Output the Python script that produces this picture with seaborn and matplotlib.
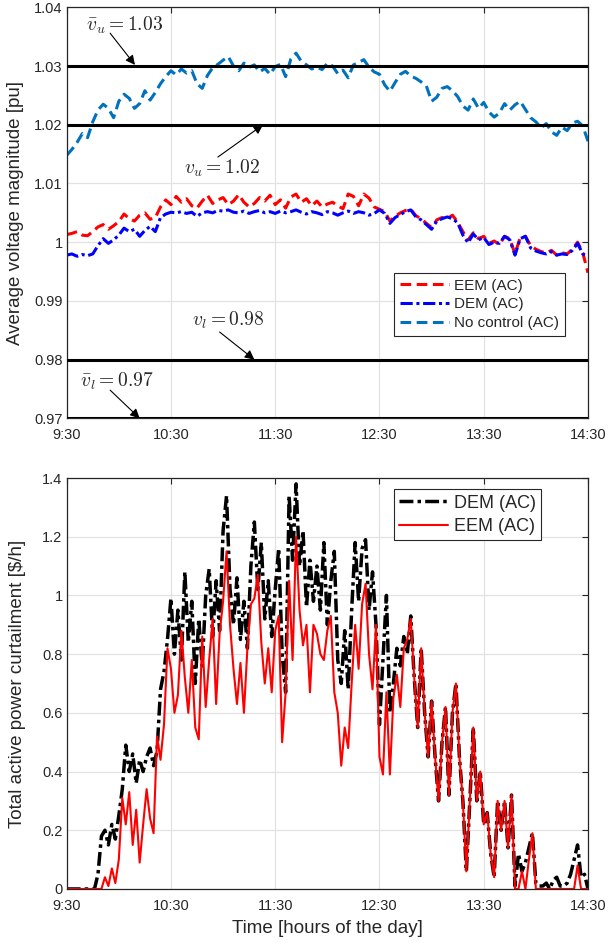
import matplotlib
matplotlib.use('Agg')
import matplotlib.pyplot as plt
import seaborn as sns
import numpy as np

# ---- data: top panel (3-min samples, minutes after 9:30) ----
t_volt = np.arange(0, 301, 3)

no_control = [1.0148, 1.0158, 1.0170, 1.0185, 1.0178, 1.0205, 1.0225, 1.0235, 1.0228, 1.0212,
              1.0240, 1.0252, 1.0245, 1.0228, 1.0236, 1.0258, 1.0242, 1.0255, 1.0270, 1.0282,
              1.0292, 1.0285, 1.0295, 1.0288, 1.0292, 1.0270, 1.0262, 1.0284, 1.0297, 1.0303,
              1.0310, 1.0316, 1.0300, 1.0292, 1.0305, 1.0298, 1.0302, 1.0290, 1.0296, 1.0286,
              1.0299, 1.0303, 1.0282, 1.0312, 1.0322, 1.0308, 1.0302, 1.0295, 1.0298, 1.0294,
              1.0305, 1.0300, 1.0287, 1.0293, 1.0280, 1.0302, 1.0306, 1.0311, 1.0298, 1.0290,
              1.0286, 1.0268, 1.0257, 1.0272, 1.0286, 1.0291, 1.0283, 1.0279, 1.0273, 1.0266,
              1.0240, 1.0247, 1.0262, 1.0265, 1.0258, 1.0248, 1.0232, 1.0225, 1.0244, 1.0228,
              1.0238, 1.0222, 1.0213, 1.0220, 1.0236, 1.0225, 1.0234, 1.0240, 1.0226, 1.0212,
              1.0205, 1.0195, 1.0202, 1.0188, 1.0182, 1.0196, 1.0190, 1.0203, 1.0206, 1.0198,
              1.0172]

eem_volt = [1.0013, 1.0015, 1.0018, 1.0012, 1.0011, 1.0018, 1.0026, 1.0030, 1.0022, 1.0028,
            1.0035, 1.0048, 1.0040, 1.0036, 1.0046, 1.0050, 1.0039, 1.0042, 1.0060, 1.0072,
            1.0064, 1.0078, 1.0068, 1.0074, 1.0062, 1.0058, 1.0070, 1.0080, 1.0066, 1.0072,
            1.0076, 1.0064, 1.0070, 1.0081, 1.0068, 1.0060, 1.0066, 1.0076, 1.0070, 1.0080,
            1.0064, 1.0072, 1.0058, 1.0077, 1.0082, 1.0068, 1.0074, 1.0062, 1.0070, 1.0060,
            1.0065, 1.0068, 1.0062, 1.0057, 1.0082, 1.0078, 1.0062, 1.0082, 1.0075, 1.0060,
            1.0056, 1.0052, 1.0036, 1.0044, 1.0050, 1.0054, 1.0056, 1.0045, 1.0040, 1.0032,
            1.0025, 1.0038, 1.0042, 1.0040, 1.0046, 1.0034, 1.0018, 1.0004, 1.0016, 1.0006,
            1.0010, 0.9998, 1.0002, 0.9996, 1.0010, 1.0006, 0.9980, 1.0008, 1.0010, 0.9994,
            0.9988, 0.9984, 0.9982, 0.9986, 0.9978, 0.9982, 0.9980, 0.9988, 1.0000, 0.9982,
            0.9948]

dem_volt = [0.9978, 0.9980, 0.9976, 0.9979, 0.9977, 0.9980, 0.9994, 1.0006, 0.9998, 1.0004,
            1.0012, 1.0024, 1.0018, 1.0022, 1.0010, 1.0020, 1.0027, 1.0018, 1.0042, 1.0048,
            1.0051, 1.0050, 1.0052, 1.0049, 1.0051, 1.0044, 1.0050, 1.0052, 1.0050, 1.0054,
            1.0053, 1.0055, 1.0051, 1.0050, 1.0053, 1.0049, 1.0052, 1.0054, 1.0050, 1.0052,
            1.0049, 1.0053, 1.0050, 1.0052, 1.0055, 1.0051, 1.0048, 1.0052, 1.0050, 1.0047,
            1.0052, 1.0050, 1.0046, 1.0050, 1.0053, 1.0049, 1.0052, 1.0050, 1.0046, 1.0049,
            1.0055, 1.0049, 1.0032, 1.0042, 1.0047, 1.0052, 1.0055, 1.0043, 1.0038, 1.0030,
            1.0022, 1.0036, 1.0040, 1.0043, 1.0040, 1.0033, 1.0012, 0.9999, 1.0014, 1.0004,
            1.0008, 0.9996, 1.0000, 0.9998, 1.0010, 1.0004, 0.9978, 1.0006, 1.0010, 0.9990,
            0.9985, 0.9982, 0.9980, 0.9984, 0.9978, 0.9980, 0.9979, 0.9986, 0.9998, 0.9980,
            0.9975]

limits = [1.03, 1.02, 0.98, 0.97]

# ---- data: bottom panel (2-min samples) ----
t_curt = np.arange(0, 301, 2)

dem_curt = [0, 0, 0, 0, 0, 0, 0, 0, 0, 0.05,
            0.18, 0.20, 0.15, 0.22, 0.17, 0.25, 0.34, 0.49, 0.40, 0.46,
            0.36, 0.44, 0.40, 0.45, 0.48, 0.42, 0.47, 0.68, 0.74, 0.85,
            0.99, 0.80, 0.95, 0.78, 1.08, 0.84, 0.98, 0.70, 0.92, 0.76,
            1.00, 1.09, 0.86, 1.05, 0.88, 1.22, 1.34, 1.02, 0.90, 1.06,
            0.85, 0.98, 0.82, 1.10, 1.25, 1.02, 1.18, 0.92, 1.05, 0.86,
            1.02, 1.16, 0.80, 0.67, 1.34, 1.12, 1.38, 1.10, 1.22, 0.96,
            1.12, 0.98, 1.10, 0.95, 1.18, 0.90, 1.05, 1.15, 0.78, 0.70,
            0.88, 0.68, 0.95, 1.18, 0.98, 1.16, 1.19, 0.95, 1.08, 0.90,
            0.56, 0.78, 1.00, 0.60, 0.70, 0.82, 0.76, 0.86, 0.80, 0.93,
            0.72, 0.55, 0.82, 0.60, 0.45, 0.64, 0.45, 0.30, 0.50, 0.62,
            0.32, 0.60, 0.70, 0.45, 0.30, 0.06, 0.30, 0.55, 0.30, 0.40,
            0.22, 0.26, 0.12, 0.04, 0.30, 0.20, 0.30, 0.14, 0.32, 0.01,
            0.12, 0.06, 0.09, 0.14, 0.19, 0.02, 0.01, 0.01, 0.02, 0.00,
            0.03, 0.04, 0.01, 0.01, 0.02, 0.05, 0.10, 0.15, 0.04, 0.05,
            0.00]

eem_curt = [0, 0, 0, 0, 0, 0, 0, 0, 0, 0,
            0.00, 0.04, 0.01, 0.07, 0.02, 0.10, 0.31, 0.22, 0.33, 0.15,
            0.27, 0.09, 0.22, 0.34, 0.24, 0.19, 0.52, 0.44, 0.56, 0.82,
            0.75, 0.60, 0.66, 0.88, 0.72, 0.60, 0.78, 0.55, 0.51, 0.86,
            0.62, 0.78, 0.92, 0.63, 0.87, 0.98, 1.15, 0.90, 0.75, 0.63,
            0.77, 0.60, 0.82, 0.97, 0.99, 1.07, 0.84, 0.70, 0.82, 0.67,
            0.88, 0.93, 0.50, 0.67, 1.05, 0.78, 1.20, 0.95, 0.83, 0.90,
            0.67, 0.90, 0.87, 0.80, 0.78, 0.88, 0.93, 0.67, 0.60, 0.42,
            0.55, 0.48, 0.70, 0.90, 0.75, 0.97, 1.04, 0.80, 0.68, 0.90,
            0.45, 0.39, 0.67, 0.39, 0.65, 0.73, 0.62, 0.82, 0.85, 0.92,
            0.72, 0.55, 0.82, 0.60, 0.45, 0.64, 0.45, 0.30, 0.50, 0.62,
            0.32, 0.60, 0.70, 0.45, 0.30, 0.06, 0.30, 0.55, 0.30, 0.40,
            0.22, 0.26, 0.12, 0.04, 0.30, 0.20, 0.30, 0.14, 0.32, 0.00,
            0.00, 0.06, 0.00, 0.10, 0.19, 0.00, 0.00, 0.00, 0.00, 0.00,
            0, 0, 0, 0, 0, 0, 0, 0.08, 0, 0,
            0]

tick_pos = [0, 60, 120, 180, 240, 300]
tick_labels = ['9:30', '10:30', '11:30', '12:30', '13:30', '14:30']

# ---- style ----
sns.set_theme(style='whitegrid', rc={
    'axes.edgecolor': '#262626', 'axes.linewidth': 0.9,
    'grid.color': '#e2e2e2', 'grid.linewidth': 0.9,
    'xtick.color': '#262626', 'ytick.color': '#262626',
    'text.color': '#262626', 'axes.labelcolor': '#262626',
})
plt.rcParams['font.family'] = ['Liberation Sans', 'DejaVu Sans']
plt.rcParams['mathtext.fontset'] = 'cm'

fig = plt.figure(figsize=(6.09, 9.43), dpi=100)
ax1 = fig.add_axes([0.1095, 0.5564, 0.856, 0.4358])
ax2 = fig.add_axes([0.1095, 0.0573, 0.856, 0.4358])


def style_axis(ax):
    ax.set_xlim(0, 300)
    ax.set_xticks(tick_pos)
    ax.set_xticklabels(tick_labels)
    ax.tick_params(direction='in', length=4, width=0.8, top=True, right=True,
                   labelsize=10.5, colors='#262626')
    ax.tick_params(axis='x', pad=7)
    ax.tick_params(axis='y', pad=3)
    for s in ax.spines.values():
        s.set_visible(True)
        s.set_color('#262626')


dashdot = (0, (4, 1.2, 1, 1.2))

# ---- top: voltage ----
sns.lineplot(x=t_volt, y=eem_volt, ax=ax1, color='#ff0000', lw=2.2,
             linestyle=(0, (3.5, 1.8)), label='EEM (AC)')
sns.lineplot(x=t_volt, y=dem_volt, ax=ax1, color='#0000ff', lw=2.2,
             linestyle=dashdot, label='DEM (AC)')
sns.lineplot(x=t_volt, y=no_control, ax=ax1, color='#0072bd', lw=2.2,
             linestyle=(0, (3.5, 1.8)), label='No control (AC)')
for v in limits:
    ax1.axhline(v, color='black', lw=2.2, zorder=3)

style_axis(ax1)
ax1.set_ylim(0.97, 1.04)
ax1.set_yticks([0.97, 0.98, 0.99, 1.0, 1.01, 1.02, 1.03, 1.04])
ax1.set_yticklabels(['0.97', '0.98', '0.99', '1', '1.01', '1.02', '1.03', '1.04'])
ax1.set_ylabel('Average voltage magnitude [pu]', fontsize=13.5)
ax1.yaxis.set_label_coords(-0.082, 0.5)
ax1.set_xlabel('')

arrow = dict(arrowstyle='-|>', color='black', lw=0.8, mutation_scale=14,
             shrinkA=0, shrinkB=0)
annots = [(r'$\bar{v}_u = 1.03$', (33.5, 1.0370), (25, 1.0356), (39.3, 1.0302)),
          (r'$v_u = 1.02$', (89.5, 1.0126), (87, 1.0145), (113, 1.0200)),
          (r'$v_l = 0.98$', (93, 0.9867), (88, 0.9847), (108, 0.9800)),
          (r'$\bar{v}_l = 0.97$', (29, 0.9763), (25, 0.9748), (42, 0.9700))]
for txt, pos, tail, head in annots:
    ax1.text(pos[0], pos[1], txt, fontsize=14, ha='center', va='center', color='#262626')
    ax1.annotate('', xy=head, xytext=tail, arrowprops=arrow)

leg1 = ax1.legend(loc='lower right', bbox_to_anchor=(0.956, 0.200), borderaxespad=0,
                  fontsize=11, handlelength=3.2, handletextpad=0.3, labelspacing=0.3,
                  borderpad=0.4, frameon=True, fancybox=False, framealpha=1)
leg1.get_frame().set_edgecolor('#262626')
leg1.get_frame().set_linewidth(0.8)

# ---- bottom: curtailment ----
sns.lineplot(x=t_curt, y=dem_curt, ax=ax2, color='black', lw=2.5,
             linestyle=dashdot, label='DEM (AC)')
sns.lineplot(x=t_curt, y=eem_curt, ax=ax2, color='#ff0000', lw=1.5,
             linestyle='-', label='EEM (AC)')

style_axis(ax2)
ax2.set_ylim(0, 1.4)
ax2.set_yticks([0, 0.2, 0.4, 0.6, 0.8, 1.0, 1.2, 1.4])
ax2.set_yticklabels(['0', '0.2', '0.4', '0.6', '0.8', '1', '1.2', '1.4'])
ax2.set_ylabel('Total active power curtailment [\\$/h]', fontsize=13.5)
ax2.yaxis.set_label_coords(-0.078, 0.5)
ax2.set_xlabel('Time [hours of the day]', fontsize=13.5)
ax2.xaxis.set_label_coords(0.5, -0.075)

leg2 = ax2.legend(loc='upper right', bbox_to_anchor=(0.91, 0.973), borderaxespad=0,
                  fontsize=13, handlelength=2.7, handletextpad=0.3, labelspacing=0.35,
                  borderpad=0.3, frameon=True, fancybox=False, framealpha=1)
leg2.get_frame().set_edgecolor('#262626')
leg2.get_frame().set_linewidth(0.8)

fig.savefig('out.png', dpi=100)
